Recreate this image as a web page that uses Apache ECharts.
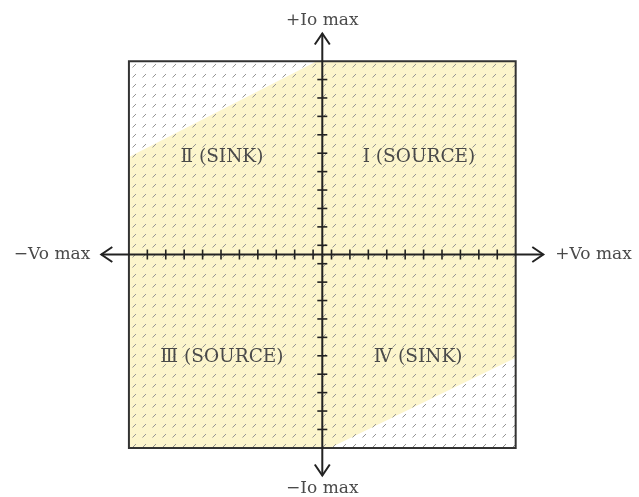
<!DOCTYPE html>
<html>
<head>
<meta charset="utf-8">
<script src="https://cdn.jsdelivr.net/npm/echarts@6.0.0/dist/echarts.min.js"></script>
<style>
  html, body { margin: 0; padding: 0; background: #fff; }
  #showplace1 { width: 639px; height: 497px; }
</style>
</head>
<body>
<div id="showplace1"></div>
<script>
// axis range (arrow tip to arrow tip) and the outer box, in tick units
var axisExtent = [-12, 12];
var boxExtent = [-10.5, 10.5];
// tick marks sit between the integer units
var tickValues = [-9.5, -8.5, -7.5, -6.5, -5.5, -4.5, -3.5, -2.5, -1.5, -0.5,
                  0.5, 1.5, 2.5, 3.5, 4.5, 5.5, 6.5, 7.5, 8.5, 9.5];
// allowed operating area (yellow), corner points
var regionX = [-10.5, -0.3, 10.5, 10.5, 0.4, -10.5];
var regionY = [5.3, 10.5, 10.5, -5.6, -10.5, -10.5];
// quadrant names and the quadrant they belong to
var quadrantLabels = ['Ⅰ (SOURCE)', 'Ⅱ (SINK)', 'Ⅲ (SOURCE)', 'Ⅳ (SINK)'];
var quadrantX = [5.25, -5.45, -5.45, 5.2];
var quadrantY = [5.3, 5.3, -5.55, -5.55];
// axis end names
var axisEndLabels = ['+Vo max', '−Vo max', '+Io max', '−Io max'];

var lineColor = '#222';
var textColor = '#4a4a4a';
var serif = '"DejaVu Serif", "Liberation Serif", serif';

// small tile with one diagonal dash, repeated as hatch
function makeHatch() {
  var c = document.createElement('canvas');
  c.width = 10;
  c.height = 10;
  var ctx = c.getContext('2d');
  ctx.strokeStyle = '#959595';
  ctx.lineWidth = 1;
  ctx.beginPath();
  ctx.moveTo(2.5, 7.5);
  ctx.lineTo(6, 4);
  ctx.stroke();
  return c;
}
var hatch = makeHatch();

function renderRegions(params, api) {
  var p0 = api.coord([boxExtent[0], boxExtent[1]]);
  var p1 = api.coord([boxExtent[1], boxExtent[0]]);
  var box = { x: p0[0], y: p0[1], width: p1[0] - p0[0], height: p1[1] - p0[1] };
  var pts = [];
  for (var i = 0; i < regionX.length; i++) {
    pts.push(api.coord([regionX[i], regionY[i]]));
  }
  return {
    type: 'group',
    children: [
      { type: 'rect', shape: box, style: { fill: '#fff' } },
      { type: 'polygon', shape: { points: pts }, style: { fill: '#fcf5cc' } },
      { type: 'rect', shape: box, style: { fill: { image: hatch, repeat: 'repeat' } } },
      { type: 'rect', shape: box, style: { fill: 'none', stroke: '#333', lineWidth: 2 } }
    ]
  };
}

function chevron(tip, dx, dy) {
  // open arrow head pointing along (dx, dy)
  var len = 11, half = 7.5;
  var bx = tip[0] - dx * len, by = tip[1] - dy * len;
  return {
    type: 'polyline',
    shape: { points: [[bx - dy * half, by + dx * half], tip, [bx + dy * half, by - dx * half]] },
    style: { stroke: lineColor, lineWidth: 2, fill: 'none' }
  };
}

function renderAxes(params, api) {
  var l = api.coord([axisExtent[0], 0]);
  var r = api.coord([axisExtent[1], 0]);
  var t = api.coord([0, axisExtent[1]]);
  var b = api.coord([0, axisExtent[0]]);
  var font = '17px ' + serif;
  return {
    type: 'group',
    children: [
      { type: 'line', shape: { x1: l[0], y1: l[1], x2: r[0], y2: r[1] }, style: { stroke: lineColor, lineWidth: 2 } },
      { type: 'line', shape: { x1: t[0], y1: t[1], x2: b[0], y2: b[1] }, style: { stroke: lineColor, lineWidth: 2 } },
      chevron(r, 1, 0), chevron(l, -1, 0), chevron(t, 0, -1), chevron(b, 0, 1),
      { type: 'text', x: r[0] + 12, y: r[1], style: { text: axisEndLabels[0], fill: textColor, font: font, align: 'left', verticalAlign: 'middle' } },
      { type: 'text', x: l[0] - 11, y: l[1], style: { text: axisEndLabels[1], fill: textColor, font: font, align: 'right', verticalAlign: 'middle' } },
      { type: 'text', x: t[0], y: t[1] - 13, style: { text: axisEndLabels[2], fill: textColor, font: font, align: 'center', verticalAlign: 'middle' } },
      { type: 'text', x: b[0], y: b[1] + 13, style: { text: axisEndLabels[3], fill: textColor, font: font, align: 'center', verticalAlign: 'middle' } }
    ]
  };
}

function renderTick(params, api) {
  var v = api.value(0);
  var h = api.coord([v, 0]);
  var w = api.coord([0, v]);
  return {
    type: 'group',
    children: [
      { type: 'line', shape: { x1: h[0], y1: h[1] - 5, x2: h[0], y2: h[1] + 5 }, style: { stroke: lineColor, lineWidth: 1.6 } },
      { type: 'line', shape: { x1: w[0] - 5, y1: w[1], x2: w[0] + 5, y2: w[1] }, style: { stroke: lineColor, lineWidth: 1.6 } }
    ]
  };
}

function renderQuadrant(params, api) {
  var i = params.dataIndex;
  var p = api.coord([api.value(0), api.value(1)]);
  return {
    type: 'text', x: p[0], y: p[1],
    style: { text: quadrantLabels[i], fill: textColor, font: '18.5px ' + serif, align: 'center', verticalAlign: 'middle' }
  };
}

var quadData = [];
for (var q = 0; q < quadrantLabels.length; q++) {
  quadData.push([quadrantX[q], quadrantY[q]]);
}

var chart = echarts.init(document.getElementById('showplace1'));
var option = {
  animation: false,
  grid: { left: 101.3, top: 33.5, width: 442, height: 442 },
  xAxis: { type: 'value', min: axisExtent[0], max: axisExtent[1], show: false },
  yAxis: { type: 'value', min: axisExtent[0], max: axisExtent[1], show: false },
  series: [
    { type: 'custom', silent: true, renderItem: renderRegions, data: [[0, 0]] },
    { type: 'custom', silent: true, renderItem: renderAxes, data: [[0, 0]] },
    { type: 'custom', silent: true, renderItem: renderTick, data: tickValues.map(function (v) { return [v]; }) },
    { type: 'custom', silent: true, renderItem: renderQuadrant, data: quadData }
  ]
};
chart.setOption(option);
</script>
</body>
</html>
